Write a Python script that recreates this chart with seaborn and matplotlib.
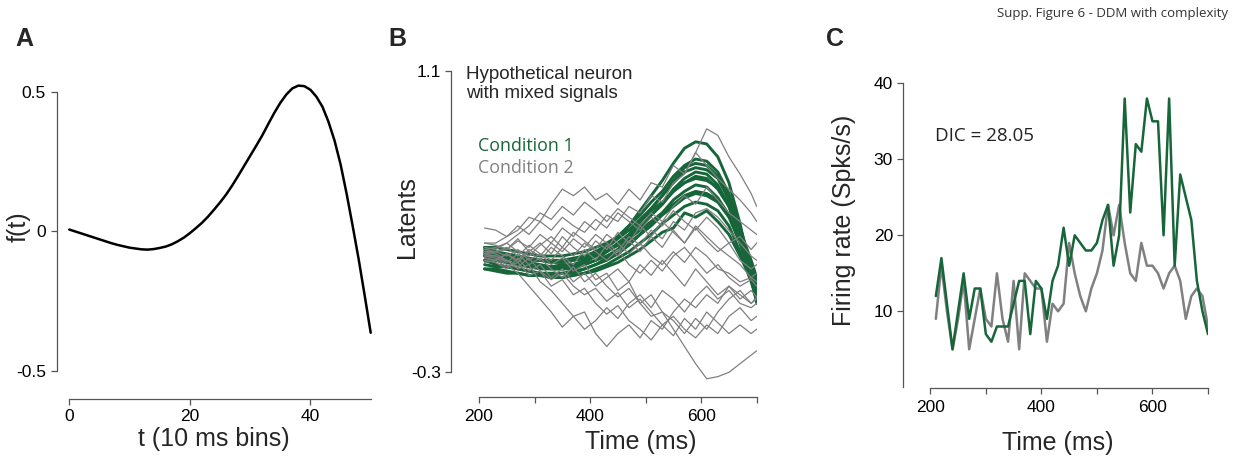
import matplotlib
matplotlib.use("Agg")
import matplotlib.pyplot as plt
import numpy as np
import pandas as pd
import seaborn as sns

# ---------------- data ----------------
# Panel A: latent shape f(t)
t_bins = list(range(0, 51))
f_t = [0.006, -0.001, -0.008, -0.015, -0.022, -0.029, -0.036, -0.043, -0.049, -0.054,
       -0.059, -0.062, -0.065, -0.066, -0.064, -0.060, -0.055, -0.047, -0.036, -0.023,
       -0.007, 0.011, 0.030, 0.052, 0.077, 0.103, 0.131, 0.163, 0.198, 0.234,
       0.270, 0.306, 0.343, 0.384, 0.424, 0.460, 0.490, 0.512, 0.522, 0.520,
       0.507, 0.482, 0.446, 0.392, 0.325, 0.240, 0.135, 0.020, -0.100, -0.230,
       -0.364]

# Panel B: latents per trial
time_b = [210, 230, 250, 270, 290, 310, 330, 350, 370, 390, 410, 430, 450,
          470, 490, 510, 530, 550, 570, 590, 610, 630, 650, 670, 690, 700]

cond1_latents = [
    [0.26, 0.24, 0.23, 0.21, 0.20, 0.19, 0.19, 0.19, 0.20, 0.21, 0.24, 0.28, 0.33, 0.38, 0.45, 0.52, 0.59, 0.67, 0.74, 0.77, 0.76, 0.70, 0.58, 0.39, 0.15, 0.02],
    [0.28, 0.26, 0.25, 0.24, 0.23, 0.22, 0.22, 0.22, 0.23, 0.24, 0.26, 0.29, 0.33, 0.38, 0.43, 0.49, 0.54, 0.61, 0.66, 0.69, 0.68, 0.63, 0.53, 0.38, 0.19, 0.09],
    [0.24, 0.22, 0.21, 0.20, 0.19, 0.18, 0.18, 0.18, 0.18, 0.20, 0.22, 0.26, 0.30, 0.34, 0.40, 0.46, 0.52, 0.59, 0.65, 0.67, 0.66, 0.61, 0.51, 0.35, 0.15, 0.03],
    [0.27, 0.25, 0.24, 0.23, 0.22, 0.22, 0.21, 0.21, 0.22, 0.23, 0.26, 0.28, 0.32, 0.36, 0.41, 0.46, 0.52, 0.58, 0.63, 0.65, 0.64, 0.60, 0.50, 0.36, 0.19, 0.09],
    [0.22, 0.20, 0.19, 0.18, 0.17, 0.16, 0.16, 0.16, 0.17, 0.18, 0.20, 0.23, 0.27, 0.32, 0.37, 0.43, 0.48, 0.55, 0.60, 0.63, 0.62, 0.57, 0.47, 0.32, 0.13, 0.03],
    [0.24, 0.23, 0.23, 0.22, 0.21, 0.20, 0.19, 0.20, 0.20, 0.22, 0.24, 0.26, 0.29, 0.33, 0.38, 0.43, 0.48, 0.54, 0.58, 0.61, 0.60, 0.55, 0.47, 0.34, 0.17, 0.08],
    [0.28, 0.28, 0.27, 0.26, 0.25, 0.24, 0.24, 0.24, 0.25, 0.26, 0.28, 0.30, 0.33, 0.36, 0.40, 0.45, 0.49, 0.54, 0.58, 0.60, 0.59, 0.56, 0.48, 0.36, 0.22, 0.14],
    [0.20, 0.19, 0.19, 0.18, 0.17, 0.16, 0.15, 0.16, 0.16, 0.18, 0.20, 0.22, 0.25, 0.29, 0.34, 0.39, 0.44, 0.50, 0.54, 0.57, 0.56, 0.51, 0.43, 0.30, 0.13, 0.04],
    [0.22, 0.22, 0.21, 0.20, 0.19, 0.19, 0.18, 0.18, 0.19, 0.20, 0.22, 0.24, 0.27, 0.30, 0.34, 0.38, 0.43, 0.47, 0.51, 0.53, 0.52, 0.49, 0.42, 0.30, 0.16, 0.08],
    [0.25, 0.25, 0.24, 0.23, 0.22, 0.22, 0.21, 0.22, 0.22, 0.23, 0.25, 0.27, 0.29, 0.32, 0.36, 0.40, 0.44, 0.48, 0.52, 0.54, 0.53, 0.50, 0.43, 0.32, 0.20, 0.12],
    [0.18, 0.18, 0.17, 0.16, 0.15, 0.15, 0.14, 0.14, 0.15, 0.16, 0.18, 0.20, 0.23, 0.26, 0.30, 0.34, 0.39, 0.43, 0.47, 0.49, 0.48, 0.45, 0.38, 0.26, 0.12, 0.04],
    [0.18, 0.17, 0.16, 0.16, 0.15, 0.15, 0.14, 0.14, 0.15, 0.16, 0.17, 0.19, 0.21, 0.24, 0.27, 0.31, 0.35, 0.37, 0.44, 0.42, 0.45, 0.40, 0.34, 0.24, 0.13, 0.06],
]

cond2_latents = [
    [0.30, 0.30, 0.33, 0.36, 0.42, 0.40, 0.48, 0.55, 0.52, 0.56, 0.50, 0.53, 0.48, 0.55, 0.50, 0.58, 0.56, 0.66, 0.62, 0.72, 0.83, 0.80, 0.70, 0.62, 0.53, 0.47],
    [0.26, 0.26, 0.27, 0.31, 0.28, 0.34, 0.30, 0.37, 0.33, 0.40, 0.36, 0.43, 0.40, 0.47, 0.44, 0.52, 0.49, 0.58, 0.62, 0.72, 0.66, 0.60, 0.55, 0.50, 0.44, 0.40],
    [0.37, 0.36, 0.33, 0.38, 0.34, 0.40, 0.36, 0.42, 0.38, 0.35, 0.41, 0.37, 0.44, 0.40, 0.36, 0.42, 0.38, 0.45, 0.40, 0.36, 0.42, 0.37, 0.30, 0.33, 0.27, 0.30],
    [0.30, 0.29, 0.27, 0.32, 0.26, 0.30, 0.25, 0.33, 0.28, 0.24, 0.31, 0.27, 0.35, 0.30, 0.38, 0.33, 0.40, 0.35, 0.30, 0.37, 0.31, 0.26, 0.30, 0.22, 0.18, 0.20],
    [0.26, 0.25, 0.22, 0.18, 0.20, 0.12, 0.08, 0.02, -0.04, -0.02, -0.12, -0.18, -0.12, -0.08, -0.14, -0.06, -0.10, -0.02, 0.04, 0.00, 0.06, 0.02, 0.10, 0.06, 0.02, 0.04],
    [0.24, 0.23, 0.20, 0.16, 0.10, 0.04, -0.02, -0.09, -0.04, -0.10, -0.06, 0.00, -0.05, 0.02, 0.06, 0.00, 0.08, 0.04, -0.02, 0.05, 0.10, 0.04, 0.08, 0.02, 0.00, 0.02],
    [0.25, 0.26, 0.24, 0.27, 0.22, 0.25, 0.20, 0.23, 0.17, 0.20, 0.13, 0.16, 0.08, 0.12, 0.02, -0.04, -0.02, -0.10, -0.18, -0.26, -0.33, -0.32, -0.30, -0.26, -0.22, -0.20],
    [0.23, 0.22, 0.25, 0.21, 0.26, 0.22, 0.28, 0.24, 0.20, 0.27, 0.22, 0.29, 0.24, 0.31, 0.26, 0.33, 0.28, 0.36, 0.30, 0.38, 0.33, 0.28, 0.24, 0.20, 0.14, 0.16],
    [0.22, 0.21, 0.18, 0.23, 0.17, 0.20, 0.14, 0.18, 0.12, 0.16, 0.10, 0.14, 0.18, 0.12, 0.20, 0.15, 0.22, 0.16, 0.10, 0.18, 0.12, 0.06, 0.10, 0.04, 0.08, 0.05],
    [0.27, 0.26, 0.28, 0.24, 0.29, 0.25, 0.22, 0.28, 0.24, 0.30, 0.26, 0.22, 0.27, 0.20, 0.16, 0.22, 0.17, 0.24, 0.28, 0.22, 0.16, 0.20, 0.14, 0.10, 0.13, 0.10],
    [0.24, 0.24, 0.21, 0.25, 0.20, 0.23, 0.18, 0.14, 0.19, 0.12, 0.16, 0.10, 0.05, 0.09, 0.02, 0.06, -0.02, -0.06, -0.12, -0.05, -0.10, -0.02, 0.04, 0.08, 0.02, 0.05],
    [0.25, 0.24, 0.22, 0.19, 0.23, 0.17, 0.13, 0.16, 0.10, 0.06, 0.09, 0.03, 0.07, 0.00, 0.04, -0.02, -0.08, -0.04, -0.10, -0.14, -0.08, -0.12, -0.04, 0.00, -0.06, -0.04],
    [0.21, 0.22, 0.25, 0.22, 0.27, 0.24, 0.30, 0.26, 0.32, 0.28, 0.34, 0.30, 0.26, 0.33, 0.29, 0.36, 0.32, 0.40, 0.36, 0.44, 0.46, 0.42, 0.36, 0.30, 0.24, 0.22],
    [0.28, 0.27, 0.30, 0.26, 0.24, 0.29, 0.33, 0.28, 0.35, 0.31, 0.27, 0.34, 0.30, 0.25, 0.30, 0.24, 0.20, 0.26, 0.21, 0.28, 0.24, 0.18, 0.16, 0.12, 0.14, 0.12],
    [0.27, 0.28, 0.30, 0.34, 0.38, 0.44, 0.41, 0.47, 0.43, 0.49, 0.45, 0.40, 0.46, 0.42, 0.38, 0.44, 0.40, 0.47, 0.52, 0.48, 0.56, 0.50, 0.44, 0.40, 0.36, 0.34],
    [0.23, 0.22, 0.19, 0.21, 0.15, 0.17, 0.10, 0.13, 0.06, 0.09, 0.02, -0.03, 0.01, -0.06, -0.10, -0.15, -0.08, -0.13, -0.05, -0.10, -0.02, -0.07, -0.12, -0.08, -0.12, -0.10],
]

# Panel C: firing rates (10 ms bins)
time_c = list(range(210, 701, 10))
rate_cond1 = [12, 17, 11, 5, 10, 15, 9, 13, 13, 7, 6, 8, 8, 8, 11, 14, 14, 7, 14, 13,
              9, 14, 16, 21, 16, 20, 19, 18, 18, 19, 22, 24, 16, 20, 38, 23, 32, 31, 38, 35,
              35, 20, 38, 16, 28, 25, 22, 14, 10, 7]
rate_cond2 = [9, 16, 10, 5, 9, 14, 5, 9, 13, 9, 8, 15, 9, 6, 14, 5, 15, 14, 13, 13,
              6, 11, 10, 11, 19, 15, 12, 10, 13, 15, 18, 24, 20, 24, 19, 15, 14, 19, 16, 16,
              15, 13, 15, 16, 14, 9, 12, 13, 12, 8]

# ---------------- style ----------------
GREEN = "#17663a"
GRAY = "#808080"
SPINE = "#555555"
W, H = 1237, 459

sns.set_theme(style="ticks")
plt.rcParams["font.family"] = ["Liberation Sans", "DejaVu Sans"]
plt.rcParams["axes.linewidth"] = 0.9
plt.rcParams["xtick.major.width"] = 0.9
plt.rcParams["ytick.major.width"] = 0.9

fig = plt.figure(figsize=(W / 100, H / 100), dpi=100)


def add_axes_px(left, top, right, bottom):
    return fig.add_axes([left / W, 1 - bottom / H, (right - left) / W, (bottom - top) / H])


def px2pt(p):
    return p * 0.72


def style_axes(ax, left_off, bottom_off):
    for s in ("top", "right"):
        ax.spines[s].set_visible(False)
    ax.spines["left"].set_position(("outward", px2pt(left_off)))
    ax.spines["bottom"].set_position(("outward", px2pt(bottom_off)))
    for s in ("left", "bottom"):
        ax.spines[s].set_color(SPINE)
    ax.tick_params(colors=SPINE, labelcolor="black", labelsize=12.5, length=4)
    ax.set_facecolor("none")


# ---------------- Panel A ----------------
axA = add_axes_px(69.3, 75.0, 370.7, 370.7)
sns.lineplot(x=t_bins, y=f_t, ax=axA, color="black", linewidth=1.8)
for ln in axA.lines:
    ln.set_clip_on(False)
axA.set_xlim(0, 50)
axA.set_ylim(-0.5, 0.56)
style_axes(axA, 12.3, 28.3)
axA.spines["left"].set_bounds(-0.5, 0.5)
axA.spines["bottom"].set_bounds(0, 50)
axA.set_yticks([-0.5, 0, 0.5])
axA.set_yticklabels(["-0.5", "0", "0.5"])
axA.set_xticks([0, 20, 40])
axA.set_xticklabels(["0", "20", "40"])
axA.tick_params(axis="y", pad=4)
axA.tick_params(axis="x", pad=3)
axA.set_xlabel("t (10 ms bins)", fontsize=18)
axA.set_ylabel("f(t)", fontsize=18)
axA.xaxis.set_label_coords(0.478, -0.232)
axA.xaxis.label.set_va("center")
axA.yaxis.set_label_coords(-0.169, 0.487)
axA.yaxis.label.set_va("center")

# ---------------- Panel B ----------------
axB = add_axes_px(479.0, 70.7, 756.7, 383.1)
rows = []
for i, tr in enumerate(cond1_latents):
    for t, v in zip(time_b, tr):
        rows.append(("Condition 1", i, t, v))
for i, tr in enumerate(cond2_latents):
    for t, v in zip(time_b, tr):
        rows.append(("Condition 2", i, t, v))
dfB = pd.DataFrame(rows, columns=["cond", "trial", "time", "latent"])
sns.lineplot(data=dfB[dfB.cond == "Condition 1"], x="time", y="latent", units="trial",
             estimator=None, color=GREEN, linewidth=2.1, ax=axB, legend=False)
sns.lineplot(data=dfB[dfB.cond == "Condition 2"], x="time", y="latent", units="trial",
             estimator=None, color=GRAY, linewidth=0.9, ax=axB, legend=False)
axB.set_xlim(200, 700)
axB.set_ylim(-0.35, 1.1)
style_axes(axB, 28.0, 13.6)
axB.spines["left"].set_bounds(-0.3, 1.1)
axB.spines["bottom"].set_bounds(200, 700)
axB.set_yticks([-0.3, 1.1])
axB.set_yticklabels(["-0.3", "1.1"])
axB.set_xticks([200, 300, 400, 500, 600, 700])
axB.set_xticklabels(["200", "", "400", "", "600", ""])
axB.tick_params(axis="y", pad=3)
axB.tick_params(axis="x", pad=5)
axB.set_xlabel("Time (ms)", fontsize=18)
axB.set_ylabel("Latents", fontsize=18)
axB.xaxis.set_label_coords(0.5816, -0.187)
axB.xaxis.label.set_va("center")
axB.yaxis.set_label_coords(-0.2575, 0.530)
axB.yaxis.label.set_va("center")

# ---------------- Panel C ----------------
axC = add_axes_px(930.3, 83.3, 1208.0, 387.3)
dfC = pd.DataFrame({
    "time": time_c * 2,
    "rate": rate_cond1 + rate_cond2,
    "cond": ["Condition 1"] * len(time_c) + ["Condition 2"] * len(time_c),
})
sns.lineplot(data=dfC, x="time", y="rate", hue="cond", hue_order=["Condition 2", "Condition 1"],
             palette={"Condition 1": GREEN, "Condition 2": GRAY}, linewidth=1.8,
             ax=axC, legend=False)
axC.set_xlim(200, 700)
axC.set_ylim(0, 40)
style_axes(axC, 27.6, 0.5)
axC.spines["left"].set_bounds(0, 40)
axC.spines["bottom"].set_bounds(200, 700)
axC.set_yticks([10, 20, 30, 40])
axC.set_yticklabels(["10", "20", "30", "40"])
axC.set_xticks([200, 300, 400, 500, 600, 700])
axC.set_xticklabels(["200", "", "400", "", "600", ""])
axC.tick_params(axis="y", pad=3)
axC.tick_params(axis="x", pad=5)
axC.set_xlabel("Time (ms)", fontsize=18)
axC.set_ylabel("Firing rate (Spks/s)", fontsize=18)
axC.xaxis.set_label_coords(0.458, -0.184)
axC.xaxis.label.set_va("center")
axC.yaxis.set_label_coords(-0.311, 0.548)
axC.yaxis.label.set_va("center")

# ---------------- annotations ----------------
fig.text(1228 / W, 1 - 14 / H, "Supp. Figure 6 - DDM with complexity", ha="right", va="center",
         fontsize=9.5, family=["Open Sans", "DejaVu Sans"], color="#333333")
for lab, x in (("A", 15), ("B", 388), ("C", 826)):
    fig.text(x / W, 1 - 39 / H, lab, ha="left", va="center", fontsize=18, fontweight="bold")

fig.text(466 / W, 1 - 66 / H, "Hypothetical neuron\nwith mixed signals", ha="left", va="top",
         fontsize=13.5, linespacing=1.15)
fig.text(478 / W, 1 - 146 / H, "Condition 1", ha="left", va="center", fontsize=12.8,
         family=["Open Sans", "DejaVu Sans"], color=GREEN)
fig.text(478 / W, 1 - 168 / H, "Condition 2", ha="left", va="center", fontsize=12.8,
         family=["Open Sans", "DejaVu Sans"], color=GRAY)
fig.text(935 / W, 1 - 136 / H, "DIC = 28.05", ha="left", va="center", fontsize=13.5,
         family=["Open Sans", "DejaVu Sans"], color="#222222")

fig.savefig("out.png", dpi=100)
